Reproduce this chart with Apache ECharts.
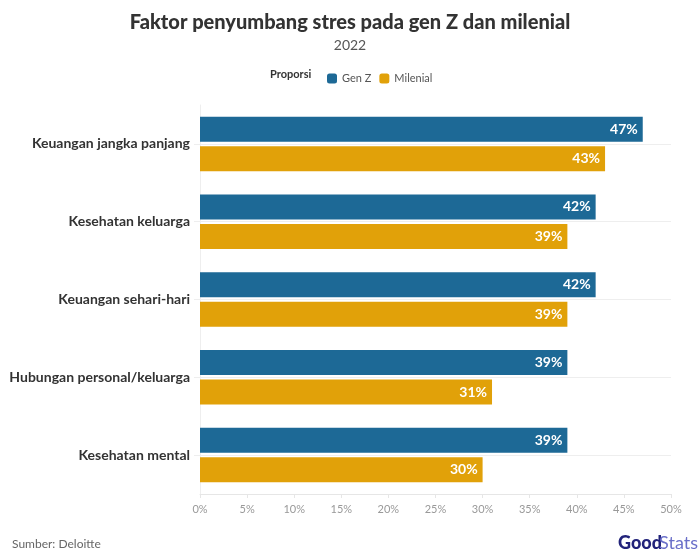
<!DOCTYPE html>
<html><head><meta charset="utf-8">
<script src="https://cdn.jsdelivr.net/npm/echarts@6/dist/echarts.min.js"></script>
<style>html,body{margin:0;padding:0;background:#fff}#c{width:700px;height:553px}</style>
</head><body><div id="c"></div>
<script>
const categories = ['Keuangan jangka panjang','Kesehatan keluarga','Keuangan sehari-hari','Hubungan personal/keluarga','Kesehatan mental'];
const genZ = [47,42,42,39,39];
const milenial = [43,39,39,31,30];
const xTicks = [0,5,10,15,20,25,30,35,40,45,50];

const chart = echarts.init(document.getElementById('c'));
const F = 'Lato, "Noto Sans", sans-serif';
chart.setOption({
  animation:false,
  textStyle:{fontFamily:F},
  title:{text:'Faktor penyumbang stres pada gen Z dan milenial',subtext:'2022',left:'center',top:8,
    textStyle:{fontFamily:F,fontSize:20,fontWeight:900,color:'#333'},
    subtextStyle:{fontFamily:F,fontSize:14,color:'#555'},itemGap:5},
  legend:{top:68,left:322,itemWidth:10,itemHeight:10,itemGap:8,icon:'roundRect',
    textStyle:{fontFamily:F,fontSize:11,color:'#555'},data:['Gen Z','Milenial']},
  graphic:[
    {type:'text',left:270,top:69,style:{text:'Proporsi',font:'bold 11px '+F,fill:'#333'}},
    {type:'text',left:12,top:538,style:{text:'Sumber: Deloitte',font:'12px '+F,fill:'#666'}},
    {type:'text',right:38,top:534,style:{text:'Good',font:'900 18px '+F,fill:'#22237a'}},
    {type:'text',right:2,top:534,style:{text:'Stats',font:'18px '+F,fill:'#6a6fc9'}}
  ],
  grid:{left:200,right:29,top:105,bottom:59,containLabel:false},
  xAxis:{type:'value',min:0,max:50,interval:5,
    axisLine:{show:true,lineStyle:{color:'#e6e6e6'}},
    axisTick:{show:true,length:4,lineStyle:{color:'#e6e6e6'}},
    axisLabel:{color:'#999',fontSize:11,margin:10,formatter:v=>xTicks.includes(v)?v+'%':''},
    splitLine:{show:false}},
  yAxis:{type:'category',data:categories,inverse:true,
    axisLine:{show:true,lineStyle:{color:'#eeeeee'}},
    axisTick:{show:true,alignWithLabel:true,length:6,lineStyle:{color:'#eeeeee'}},
    splitLine:{show:true,alignWithLabel:true,lineStyle:{color:'#eeeeee'}},
    axisLabel:{color:'#333',fontSize:14,fontWeight:'bold',margin:10}},
  series:[
    {name:'Gen Z',type:'bar',data:genZ,barWidth:25,barGap:'18%',
     itemStyle:{color:'#1d6996'},
     label:{show:true,position:'insideRight',distance:5,formatter:'{c}%',color:'#fff',fontWeight:'bold',fontSize:14}},
    {name:'Milenial',type:'bar',data:milenial,barWidth:25,
     itemStyle:{color:'#e1a109'},
     label:{show:true,position:'insideRight',distance:5,formatter:'{c}%',color:'#fff',fontWeight:'bold',fontSize:14}}
  ]
});
</script></body></html>
